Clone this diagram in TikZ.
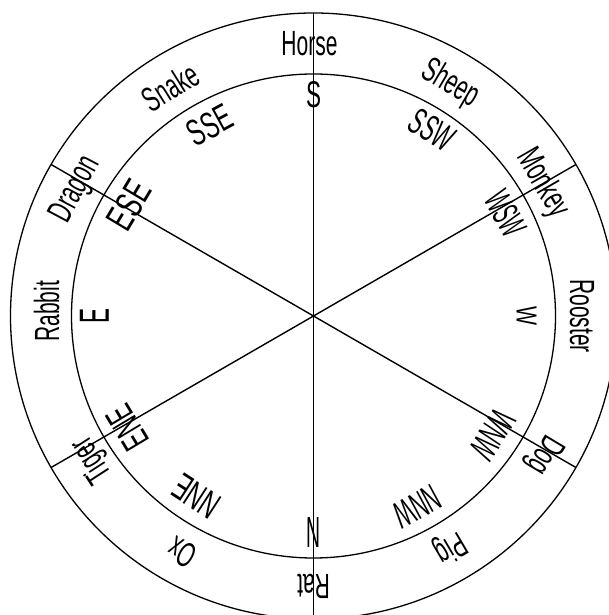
\documentclass[tikz,border=0pt]{standalone}
\usepackage{fontspec}
\setmainfont{Liberation Sans}
\newfontfamily\narrowfont{Liberation Sans}[FakeStretch=0.6]
\usepackage{graphicx}
\newcommand\fitlbl[3]{\resizebox{#1pt}{#2pt}{#3}}
\begin{document}
\begin{tikzpicture}[x=1pt,y=1pt,
  ring/.style={line width=1.3pt},
  spoke/.style={line width=1.4pt},
  animal/.style={inner sep=0pt, text height=25pt, text depth=0pt,
    font=\narrowfont\fontsize{35}{35}\selectfont},
  dirlbl/.style={inner sep=0pt}]
\useasboundingbox (-313.5,-299) rectangle (295.5,316);
\clip (-313.5,-299) rectangle (295.5,316);
\coordinate (O) at (0,0);
\draw[ring] (O) circle (303);
\draw[ring] (O) circle (242);
% spoke end points
\coordinate (p90) at (90:303);
\coordinate (p270) at (270:303);
\coordinate (p30) at (30:303);
\coordinate (p210) at (210:303);
\coordinate (p150) at (150:303);
\coordinate (p330) at (330:303);
\draw[spoke] (p90) -- (p270);
\draw[spoke] (p30) -- (p210);
\draw[spoke] (p150) -- (p330);
% compass points
\node[dirlbl] (s) at (90:221) {\fitlbl{15}{26}{S}};
\node[dirlbl, rotate=28.5] (sse) at (118.5:217) {\fitlbl{46}{26}{SSE}};
\node[dirlbl, rotate=59] (ese) at (149:215) {\fitlbl{50}{27}{ESE}};
\node[dirlbl, rotate=90] (e) at (180:219) {\fitlbl{15}{29}{E}};
\node[dirlbl, rotate=121] (ene) at (211:217) {\fitlbl{46}{26}{ENE}};
\node[dirlbl, rotate=147] (nne) at (237:215) {\fitlbl{48}{26}{NNE}};
\node[dirlbl, rotate=180] (n) at (270:216) {\fitlbl{14}{30}{N}};
\node[dirlbl, rotate=208.5] (nnw) at (298.5:217) {\fitlbl{48}{26}{NNW}};
\node[dirlbl, rotate=236.5] (wnw) at (326.5:215) {\fitlbl{50}{26}{WNW}};
\node[dirlbl, rotate=-90] (w) at (0:213) {\fitlbl{19}{20}{W}};
\node[dirlbl, rotate=-62] (wsw) at (28:218) {\fitlbl{46}{26}{WSW}};
\node[dirlbl, rotate=-32.5] (ssw) at (57.5:221) {\fitlbl{46}{26}{SSW}};
% animals
\node[animal] (horse) at (-4,273) {Horse};
\node[animal, rotate=32] (snake) at (122:270) {Snake};
\node[animal, rotate=62] (dragon) at (152:273) {Dragon};
\node[animal, rotate=90] (rabbit) at (179:267) {Rabbit};
\node[animal, rotate=123] (tiger) at (213:267) {Tiger};
\node[animal, rotate=151] (ox) at (241:271) {Ox};
\node[animal, rotate=180] (rat) at (270:271) {Rat};
\node[animal, rotate=210.5] (pig) at (300.5:272) {Pig};
\node[animal, rotate=239] (dog) at (329:273) {Dog};
\node[animal, rotate=-90] (rooster) at (0:269) {Rooster};
\node[animal, rotate=-60] (monkey) at (30:268) {Monkey};
\node[animal, rotate=-30.5] (sheep) at (59.5:273) {Sheep};
\end{tikzpicture}
\end{document}
